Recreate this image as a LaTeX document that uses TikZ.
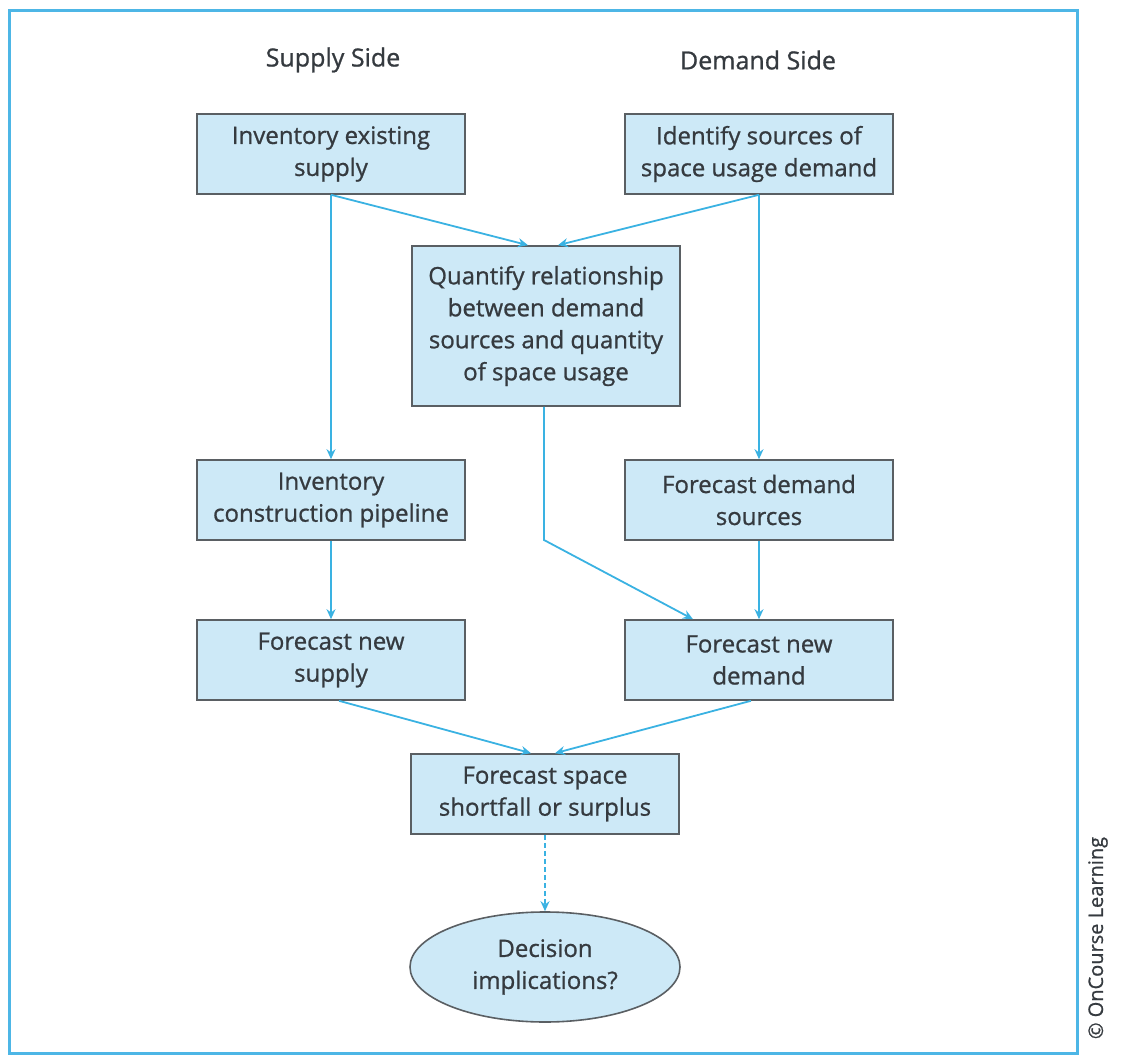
\documentclass[tikz,border=0pt]{standalone}
\usepackage{fontspec}
\setmainfont{Open Sans}[RawFeature={embolden=0.9}]
\usetikzlibrary{arrows.meta,shapes.geometric}
\definecolor{boxfill}{HTML}{CDE9F7}
\definecolor{boxline}{HTML}{5A5F63}
\definecolor{flow}{HTML}{3AB2E2}
\definecolor{frameblue}{HTML}{4DB6E6}
\definecolor{txt}{HTML}{353A3F}
\tikzset{
  stepbox/.style={draw=boxline, line width=1.6pt, fill=boxfill, minimum width=268pt,
    minimum height=80pt, align=center, text=txt, font=\fontsize{24}{32}\selectfont, inner sep=2pt},
  bigbox/.style={stepbox, minimum height=160pt},
  endnode/.style={ellipse, draw=boxline, line width=1.6pt, fill=boxfill, minimum width=270pt,
    minimum height=110pt, align=center, text=txt, font=\fontsize{24}{32}\selectfont, inner sep=0pt},
  flowline/.style={draw=flow, line width=1.8pt, -{Stealth[length=10pt,width=9pt]}},
  heading/.style={text=txt, font=\fontsize{25}{30}\selectfont}
}
\begin{document}
\begin{tikzpicture}[x=1pt,y=-1pt]
  \useasboundingbox (0,0) rectangle (1122,1056);
  % outer frame
  \draw[frameblue, line width=3pt] (9,11) rectangle (1077,1053);

  % column headings
  \node[heading] (hs) at (333,60) {Supply Side};
  \node[heading] (hd) at (758,60) {Demand Side};

  % process boxes
  \node[stepbox] (inv)  at (331,154) {Inventory existing\\supply};
  \node[stepbox] (src)  at (759,154) {Identify sources of\\space usage demand};
  \node[bigbox]  (qty)  at (546,326) {Quantify relationship\\between demand\\sources and quantity\\of space usage};
  \node[stepbox] (pipe) at (331,500) {Inventory\\construction pipeline};
  \node[stepbox] (fds)  at (759,500) {Forecast demand\\sources};
  \node[stepbox] (fns)  at (331,660) {Forecast new\\supply};
  \node[stepbox] (fnd)  at (759,660) {Forecast new\\demand};
  \node[stepbox] (gap)  at (545,794) {Forecast space\\shortfall or surplus};
  \node[endnode] (dec)  at (545,967) {Decision\\implications?};

  % connectors
  \coordinate (bend) at (544,540);
  \draw[flowline] (inv.south) -- ([xshift=-18pt]qty.north);
  \draw[flowline] (src.south) -- ([xshift=12pt]qty.north);
  \draw[flowline] (inv.south) -- (pipe.north);
  \draw[flowline] (src.south) -- (fds.north);
  \draw[flowline] (qty.south -| bend) -- (bend) -- ([xshift=-66pt]fnd.north);
  \draw[flowline] (pipe.south) -- (fns.north);
  \draw[flowline] (fds.south) -- (fnd.north);
  \draw[flowline] ([xshift=8pt]fns.south) -- ([xshift=-14pt]gap.north);
  \draw[flowline] ([xshift=-8pt]fnd.south) -- ([xshift=10pt]gap.north);
  \draw[flowline, dashed, dash pattern=on 5pt off 3pt] (gap.south) -- (dec.north);

  % credit line
  \node[rotate=90, text=txt, font=\fontsize{20}{24}\selectfont] (credit) at (1098,938) {\textcopyright{} OnCourse Learning};
\end{tikzpicture}
\end{document}
